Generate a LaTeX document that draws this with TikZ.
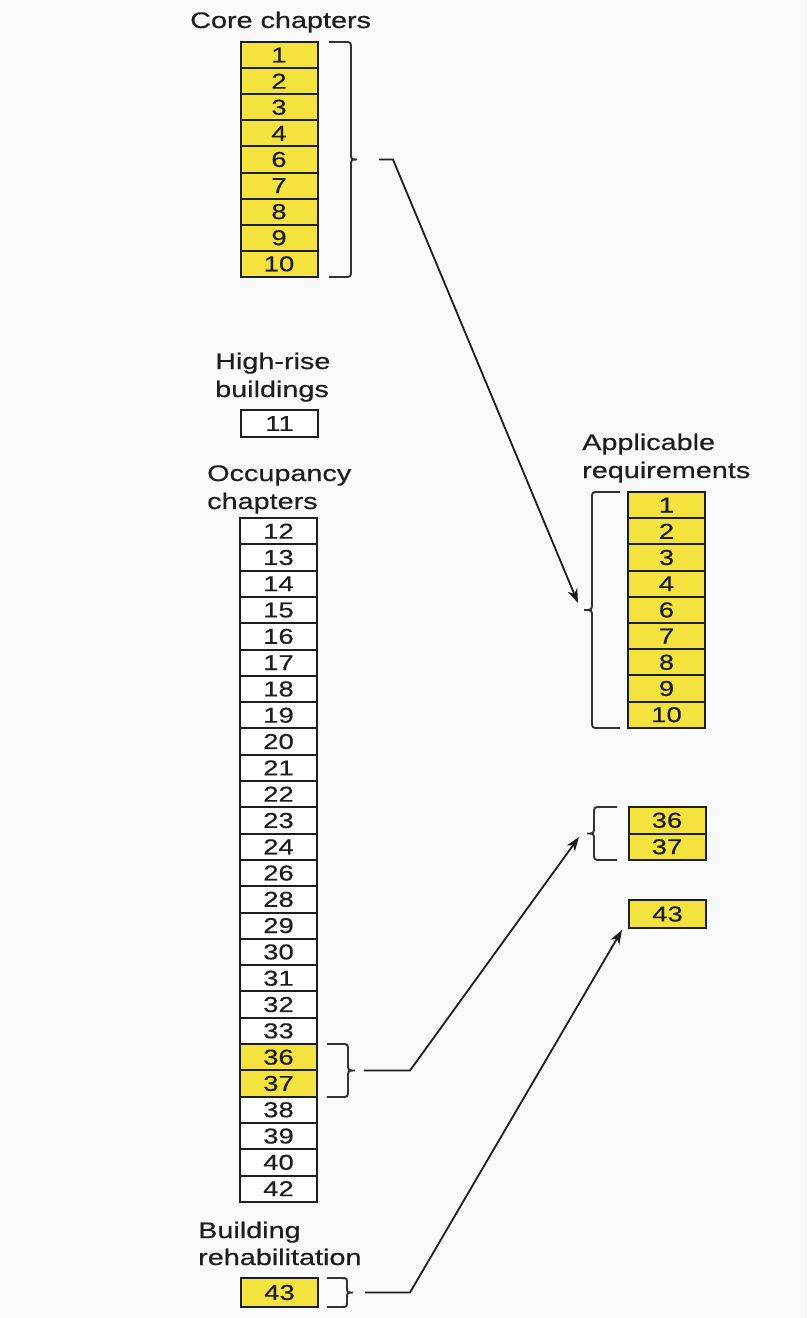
\documentclass[tikz,border=0pt]{standalone}
\usepackage{fontspec}
\setmainfont{Liberation Sans}[FakeStretch=1.28,FakeBold=0.5]
\usetikzlibrary{arrows.meta}
\definecolor{bgc}{RGB}{248,249,251}
\definecolor{cellyel}{RGB}{244,226,62}
\definecolor{ink}{RGB}{30,30,30}
\definecolor{brcol}{RGB}{50,50,50}
\tikzset{
  cellbase/.style={draw=ink, line width=2pt, inner sep=0pt, text=ink,
    minimum width=77pt, font=\fontsize{21.5}{24}\selectfont},
  ycell/.style={cellbase, fill=cellyel},
  wcell/.style={cellbase, fill=white},
  lbl/.style={inner sep=0pt, anchor=base west, text=ink, font=\fontsize{22.5}{28}\selectfont},
  brc/.style={draw=brcol, line width=1.9pt},
  conn/.style={draw=ink, line width=1.8pt, -{Stealth[length=14pt,width=10pt,inset=4pt]}},
  seg/.style={draw=ink, line width=1.8pt}
}
\newcommand\CurlyB[6]{%
  \draw[brc] (#1,#4) -- ({#2-(#6)},#4) .. controls (#2,#4) .. (#2,{#4+abs(#6)})
    -- (#2,{(#4+#5)/2-abs(#6)}) .. controls (#2,{(#4+#5)/2}) .. (#3,{(#4+#5)/2})
    .. controls (#2,{(#4+#5)/2}) .. (#2,{(#4+#5)/2+abs(#6)})
    -- (#2,{#5-abs(#6)}) .. controls (#2,#5) .. ({#2-(#6)},#5) -- (#1,#5);}
\begin{document}
\begin{tikzpicture}[x=1pt,y=-1pt]
\fill[bgc] (0,0) rectangle (807,1318);
\useasboundingbox (0,0) rectangle (807,1318);

% labels
\node[lbl] (lblCore) at (190,28) {Core chapters};
\node[lbl] (lblHigh1) at (215,369) {High-rise};
\node[lbl] (lblHigh2) at (215,397) {buildings};
\node[lbl] (lblOcc1) at (207,481) {Occupancy};
\node[lbl] (lblOcc2) at (207,509) {chapters};
\node[lbl] (lblBld1) at (198,1238) {Building};
\node[lbl] (lblBld2) at (198,1265) {rehabilitation};
\node[lbl] (lblApp1) at (582,450) {Applicable};
\node[lbl] (lblApp2) at (582,478) {requirements};

% core chapters
\foreach \n [count=\i from 0] in {1,2,3,4,6,7,8,9,10}
  \node[ycell, minimum height=26.1pt] (c\n) at (279,{42+26.1*(\i+0.5)}) {\n};

% high-rise
\node[wcell, minimum height=27pt] (h11) at (279.5,423.5) {11};

% occupancy chapters
\foreach \n [count=\i from 0] in {12,13,14,15,16,17,18,19,20,21,22,23,24,26,28,29,30,31,32,33}
  \node[wcell, minimum height=26.3pt] (o\n) at (278.5,{518+26.3*(\i+0.5)}) {\n};
\foreach \n [count=\i from 20] in {36,37}
  \node[ycell, minimum height=26.3pt] (o\n) at (278.5,{518+26.3*(\i+0.5)}) {\n};
\foreach \n [count=\i from 22] in {38,39,40,42}
  \node[wcell, minimum height=26.3pt] (o\n) at (278.5,{518+26.3*(\i+0.5)}) {\n};

% building rehabilitation
\node[ycell, minimum height=29pt] (b43) at (279.5,1292.5) {43};

% applicable requirements
\foreach \n [count=\i from 0] in {1,2,3,4,6,7,8,9,10}
  \node[ycell, minimum height=26.2pt] (a\n) at (666.5,{492+26.2*(\i+0.5)}) {\n};
\node[ycell, minimum height=26.5pt] (a36) at (667,820.25) {36};
\node[ycell, minimum height=26.5pt] (a37) at (667,846.75) {37};
\node[ycell, minimum height=28pt] (a43) at (667.5,914) {43};

% braces
\CurlyB{329}{351}{357}{42}{277}{7}
\CurlyB{327}{348}{355}{1044}{1097}{7}
\CurlyB{327}{347}{353}{1278}{1307}{6}
\CurlyB{620}{592}{584}{492}{728}{-7}
\CurlyB{617}{594}{587}{807}{860}{-7}

% connector points
\coordinate (coreOut) at (379,159.5);
\coordinate (coreBend) at (393,159.5);
\coordinate (appIn) at (578,603);
\coordinate (occOut) at (364,1070.5);
\coordinate (occBend) at (410,1070.5);
\coordinate (r3637In) at (579,837);
\coordinate (bOut) at (365,1292.5);
\coordinate (bBend) at (410,1292.5);
\coordinate (r43In) at (622,930);

\draw[conn] (coreOut) -- (coreBend) -- (appIn);
\draw[conn] (occOut) -- (occBend) -- (r3637In);
\draw[conn] (bOut) -- (bBend) -- (r43In);
\end{tikzpicture}
\end{document}
